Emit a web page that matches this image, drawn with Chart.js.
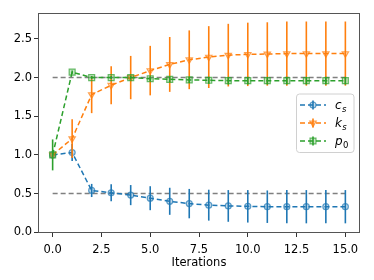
<!DOCTYPE html>
<html><head><meta charset="utf-8">
<script src="https://cdn.jsdelivr.net/npm/chart.js@4.4.1/dist/chart.umd.min.js"></script>
<style>html,body{margin:0;padding:0;background:#fff}</style>
</head><body>
<canvas id="c" width="374" height="280" style="width:374px;height:280px;display:block"></canvas>
<script>
// ---- data ----
const iterations = [0,1,2,3,4,5,6,7,8,9,10,11,12,13,14,15];
const csMean = [1.00,1.03,0.54,0.51,0.48,0.44,0.40,0.37,0.35,0.34,0.335,0.33,0.33,0.33,0.33,0.33];
const csErr  = [0.02,0.11,0.085,0.11,0.13,0.155,0.175,0.19,0.20,0.205,0.21,0.21,0.215,0.215,0.215,0.215];
const ksMean = [1.00,1.21,1.78,1.90,2.00,2.09,2.17,2.23,2.265,2.29,2.30,2.305,2.31,2.31,2.31,2.31];
const ksErr  = [0.02,0.25,0.24,0.245,0.28,0.32,0.355,0.38,0.40,0.405,0.41,0.41,0.415,0.415,0.415,0.415];
const p0Mean = [1.00,2.07,2.00,2.00,2.00,1.985,1.977,1.97,1.965,1.96,1.96,1.96,1.96,1.96,1.96,1.96];
const p0Err  = [0.20,0.02,0.02,0.02,0.025,0.03,0.035,0.04,0.045,0.05,0.05,0.05,0.05,0.05,0.05,0.05];
const refLevels = [2.0, 0.5];
const refRange = [0, 15];
const seriesBase = ['c','k','p'];
const seriesSub  = ['s','s','0'];
const xTicks = [0,2.5,5,7.5,10,12.5,15];
const yTicks = [0,0.5,1,1.5,2,2.5];
const xTitle = 'Iterations';

// ---- styles ----
const RGB = ['31,119,180','255,127,14','44,160,44'];
const MARK = [
  {style:'circle', radius:3, rotation:0},
  {style:'triangle', radius:3.7, rotation:180},
  {style:'rect', radius:4.2, rotation:0}
];
const FONT = '"DejaVu Sans", sans-serif';
const DASH = [5,3];

const toPts = (m) => iterations.map((x,i)=>({x:x, y:m[i]}));
const means = [csMean, ksMean, p0Mean];
const errs = [csErr, ksErr, p0Err];

const datasets = [];
means.forEach((m,k)=>{
  datasets.push({
    label: seriesBase[k]+seriesSub[k],
    data: toPts(m),
    errors: errs[k],
    errColor: 'rgb('+RGB[k]+')',
    borderColor: 'rgb('+RGB[k]+')',
    borderWidth: 1.5,
    borderDash: DASH,
    pointStyle: MARK[k].style,
    pointRadius: MARK[k].radius,
    pointRotation: MARK[k].rotation,
    pointBorderWidth: 1.2,
    pointBackgroundColor: 'rgba('+RGB[k]+',0.25)',
    pointBorderColor: 'rgba('+RGB[k]+',0.7)',
    tension: 0,
    fill: false,
    order: 10 - k
  });
});
refLevels.forEach((lv,j)=>{
  datasets.push({
    label: 'ref'+j,
    data: refRange.map(x=>({x:x, y:lv})),
    borderColor: 'rgb(128,128,128)',
    borderWidth: 1.5,
    borderDash: DASH,
    pointRadius: 0,
    tension: 0,
    fill: false,
    order: 20
  });
});

const errorBarPlugin = {
  id: 'errbars',
  beforeDatasetDraw(chart, args){
    const ds = chart.data.datasets[args.index];
    if (!ds.errors) return;
    const xs = chart.scales.x, ys = chart.scales.y, ctx = chart.ctx;
    ctx.save();
    ctx.strokeStyle = ds.errColor;
    ctx.lineWidth = 1.6;
    ctx.setLineDash([]);
    ds.data.forEach((p,i)=>{
      const e = ds.errors[i];
      const x = xs.getPixelForValue(p.x);
      ctx.beginPath();
      ctx.moveTo(x, ys.getPixelForValue(p.y - e));
      ctx.lineTo(x, ys.getPixelForValue(p.y + e));
      ctx.stroke();
    });
    ctx.restore();
  }
};

const framePlugin = {
  id: 'frame',
  afterDatasetsDraw(chart){
    const {ctx, chartArea:a} = chart;
    ctx.save();
    ctx.strokeStyle = '#555';
    ctx.lineWidth = 1;
    ctx.setLineDash([]);
    ctx.strokeRect(Math.round(a.left)+0.5, Math.round(a.top)+0.5, Math.round(a.right-a.left)-1, Math.round(a.bottom-a.top)-1);
    ctx.restore();
  }
};

const legendPlugin = {
  id: 'mplLegend',
  afterDraw(chart){
    const ctx = chart.ctx;
    const bx = 296.5, by = 94, bw = 57.5, bh = 58.5, r = 3;
    ctx.save();
    ctx.beginPath();
    ctx.moveTo(bx+r, by);
    ctx.arcTo(bx+bw, by, bx+bw, by+bh, r);
    ctx.arcTo(bx+bw, by+bh, bx, by+bh, r);
    ctx.arcTo(bx, by+bh, bx, by, r);
    ctx.arcTo(bx, by, bx+bw, by, r);
    ctx.closePath();
    ctx.fillStyle = 'rgba(255,255,255,0.8)';
    ctx.fill();
    ctx.strokeStyle = '#d0d0d0';
    ctx.lineWidth = 1;
    ctx.stroke();
    const rows = [105, 123, 141];
    rows.forEach((yc,k)=>{
      const col = 'rgb('+RGB[k]+')';
      ctx.strokeStyle = col; ctx.lineWidth = 1.5; ctx.setLineDash(DASH);
      ctx.beginPath(); ctx.moveTo(300, yc); ctx.lineTo(326, yc); ctx.stroke();
      ctx.setLineDash([]);
      ctx.lineWidth = 1.6;
      ctx.beginPath(); ctx.moveTo(313, yc-4.5); ctx.lineTo(313, yc+4.5); ctx.stroke();
      ctx.fillStyle = 'rgba('+RGB[k]+',0.25)';
      ctx.strokeStyle = 'rgba('+RGB[k]+',0.7)';
      ctx.lineWidth = 1.2;
      Chart.helpers.drawPoint(ctx, {pointStyle: MARK[k].style, radius: MARK[k].radius, rotation: MARK[k].rotation, borderWidth: 1.2}, 313, yc);
      ctx.fillStyle = '#000';
      ctx.textBaseline = 'alphabetic';
      ctx.textAlign = 'left';
      ctx.font = 'italic 12px ' + FONT;
      const base = seriesBase[k];
      const by0 = yc + 4;
      ctx.fillText(base, 335, by0);
      const w = ctx.measureText(base).width;
      const sub = seriesSub[k];
      ctx.font = (/[0-9]/.test(sub) ? '' : 'italic ') + '8.5px ' + FONT;
      ctx.fillText(sub, 335 + w + 0.3, by0 + 2.5);
    });
    ctx.restore();
  }
};

const tickFmt = (v) => Number(v).toFixed(1);

new Chart(document.getElementById('c'), {
  type: 'line',
  data: { datasets },
  plugins: [errorBarPlugin, framePlugin, legendPlugin],
  options: {
    responsive: false,
    devicePixelRatio: 1,
    animation: false,
    layout: { padding: { left: 0, right: 14, top: 13, bottom: 0 } },
    plugins: { legend: { display: false }, tooltip: { enabled: false } },
    scales: {
      x: {
        type: 'linear',
        min: -0.75, max: 15.75,
        afterBuildTicks: (s) => { s.ticks = xTicks.map(v=>({value:v})); },
        afterFit: (s) => { s.height = 47; },
        grid: { display: true, drawOnChartArea: false, drawTicks: true, tickLength: 4, tickColor: '#333', lineWidth: 1 },
        border: { display: false },
        ticks: { color: '#000', font: { family: FONT, size: 11.5 }, padding: 6, maxRotation: 0, autoSkip: false, callback: tickFmt },
        title: { display: true, text: xTitle, color: '#000', font: { family: FONT, size: 11.5 }, padding: { top: 0, bottom: 10 } }
      },
      y: {
        type: 'linear',
        min: -0.01, max: 2.835,
        afterBuildTicks: (s) => { s.ticks = yTicks.map(v=>({value:v})); },
        afterFit: (s) => { s.width = 38; },
        grid: { display: true, drawOnChartArea: false, drawTicks: true, tickLength: 4, tickColor: '#333', lineWidth: 1 },
        border: { display: false },
        ticks: { color: '#000', font: { family: FONT, size: 11.5 }, padding: 2, autoSkip: false, callback: tickFmt }
      }
    }
  }
});
</script>
</body></html>
